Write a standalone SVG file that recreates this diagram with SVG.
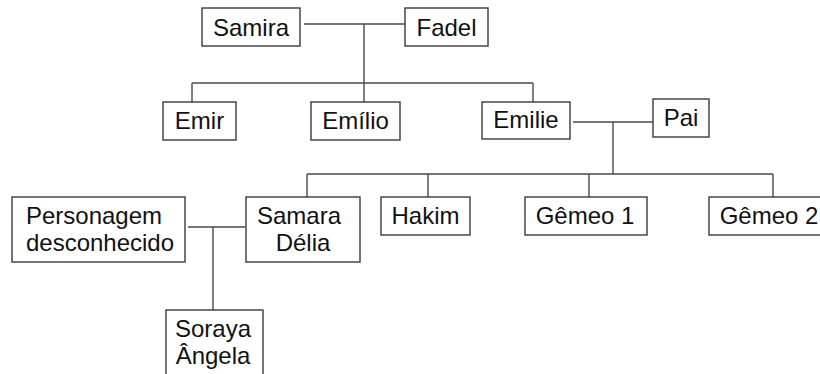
<svg xmlns="http://www.w3.org/2000/svg" width="820" height="374" viewBox="0 0 820 374">
<style>
.box{fill:#fff;stroke:#3a3a3a;stroke-width:1.4}
.ln{fill:none;stroke:#4a4a4a;stroke-width:1.4}
text{font-family:"Liberation Sans",Arial,sans-serif;font-size:24px;fill:#111;text-anchor:middle}
</style>
<rect width="820" height="374" fill="#fff"/>
<g id="connectors">
<path class="ln" d="M304 24H405M364 24V102M192 83H533M192 83V102M533 83V102"/>
<path class="ln" d="M573 122H653M613 122V174M307 174H773M307 174V197M428 174V197M589 174V197M773 174V197"/>
<path class="ln" d="M188 227H245M213 227V310"/>
</g>
<g id="samira"><rect class="box" x="202" y="8" width="98" height="38"/><text x="251" y="36">Samira</text></g>
<g id="fadel"><rect class="box" x="405" y="8" width="83" height="38"/><text x="446.5" y="36">Fadel</text></g>
<g id="emir"><rect class="box" x="163" y="102" width="73" height="38"/><text x="199.5" y="129">Emir</text></g>
<g id="emilio"><rect class="box" x="311" y="102" width="89" height="38"/><text x="355.5" y="129">Emílio</text></g>
<g id="emilie"><rect class="box" x="482" y="102" width="88" height="37"/><text x="526" y="128">Emilie</text></g>
<g id="pai"><rect class="box" x="653" y="99" width="56" height="38"/><text x="681" y="126">Pai</text></g>
<g id="personagem"><rect class="box" x="12" y="197" width="173" height="65"/><text x="94" y="224">Personagem</text><text x="100" y="251">desconhecido</text></g>
<g id="samara"><rect class="box" x="246" y="197" width="114" height="65"/><text x="299" y="224">Samara</text><text x="303" y="251">Délia</text></g>
<g id="hakim"><rect class="box" x="381" y="197" width="89" height="38"/><text x="425.5" y="224">Hakim</text></g>
<g id="gemeo1"><rect class="box" x="525" y="197" width="122" height="38"/><text x="585" y="224">Gêmeo 1</text></g>
<g id="gemeo2"><rect class="box" x="709" y="197" width="122" height="38"/><text x="769" y="224">Gêmeo 2</text></g>
<g id="soraya"><rect class="box" x="166" y="310" width="97" height="80"/><text x="213" y="337">Soraya</text><text x="213" y="364">Ângela</text></g>
</svg>
